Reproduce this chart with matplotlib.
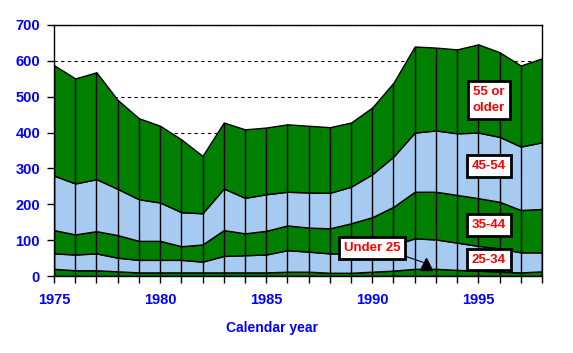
import matplotlib
matplotlib.use('Agg')
import matplotlib.pyplot as plt
import numpy as np

plt.rcParams['font.family'] = ['Liberation Sans', 'DejaVu Sans']
plt.rcParams['font.weight'] = 'bold'

years = np.arange(1975, 1999)

# cumulative tops
top_u25 = [20, 16, 16, 13, 10, 10, 10, 10, 10, 10, 10, 12, 12, 9, 9, 12, 15, 20, 20, 17, 15, 12, 10, 13]
top_2534 = [63, 60, 63, 51, 45, 45, 45, 40, 56, 58, 60, 72, 68, 63, 63, 75, 86, 105, 102, 93, 84, 77, 66, 66]
top_3544 = [128, 116, 125, 114, 98, 98, 83, 88, 128, 119, 126, 141, 135, 133, 147, 164, 193, 235, 235, 226, 217, 207, 184, 187]
top_4554 = [280, 258, 270, 243, 214, 205, 178, 175, 244, 218, 228, 235, 233, 232, 249, 284, 333, 400, 406, 398, 400, 388, 361, 373]
total = [588, 551, 568, 491, 440, 419, 381, 335, 428, 409, 414, 423, 419, 415, 428, 470, 539, 640, 637, 632, 646, 624, 587, 607]

tops = np.array([top_u25, top_2534, top_3544, top_4554, total])
layers = np.diff(np.vstack([np.zeros(len(years)), tops]), axis=0)

green = '#007f00'
blue = '#a6caf0'
blue_txt = '#0000ff'

fig = plt.figure(figsize=(5.73, 3.53), dpi=100)
ax = fig.add_axes([54/573, 1-276/353, 488/573, 251/353])

ax.stackplot(years, layers, colors=[green, blue, green, blue, green],
             edgecolor='black', linewidth=1, zorder=2)
ax.vlines(years, 0, total, color='black', linewidth=1, zorder=3)

ax.set_xlim(1975, 1998)
ax.set_ylim(0, 700)
ax.set_yticks(np.arange(0, 701, 100))
ax.set_xticks(np.arange(1975, 1999, 5))
ax.set_xticks(years, minor=True)
ax.yaxis.grid(True, linestyle=(0, (3, 3)), color='black', linewidth=0.8)
ax.set_axisbelow(True)

ax.tick_params(axis='both', which='both', direction='out', length=5, width=1,
               labelsize=10.5, labelcolor=blue_txt)
ax.tick_params(axis='x', which='major', pad=7)
ax.tick_params(axis='y', pad=5)
for lab in ax.get_xticklabels() + ax.get_yticklabels():
    lab.set_fontweight('bold')
for s in ax.spines.values():
    s.set_linewidth(1)

fig.text(272/573, 1-328/353, 'Calendar year', ha='center', va='center',
         fontsize=10, fontweight='bold', color=blue_txt)

box = dict(boxstyle='square,pad=0.35', facecolor='white', edgecolor='black', linewidth=2)
lab_kw = dict(ha='center', va='center', fontsize=9.5, fontweight='bold', color='red', bbox=box, zorder=5)
ax.text(1995.5, 491, '55 or\nolder', linespacing=1.5, **lab_kw)
ax.text(1995.5, 307, '45-54', **lab_kw)
ax.text(1995.5, 142, '35-44', **lab_kw)
ax.text(1995.5, 45, '25-34', **lab_kw)
ax.text(1990.0, 78, 'Under 25', **lab_kw)

# pointer from the "Under 25" box down to the thin bottom band
ax.plot([1991.62, 1992.4], [54, 38], color='black', linewidth=0.8, zorder=4)
ax.plot([1992.52], [34], marker='^', markersize=8, color='black', zorder=4)

fig.savefig('out.png', dpi=100)
